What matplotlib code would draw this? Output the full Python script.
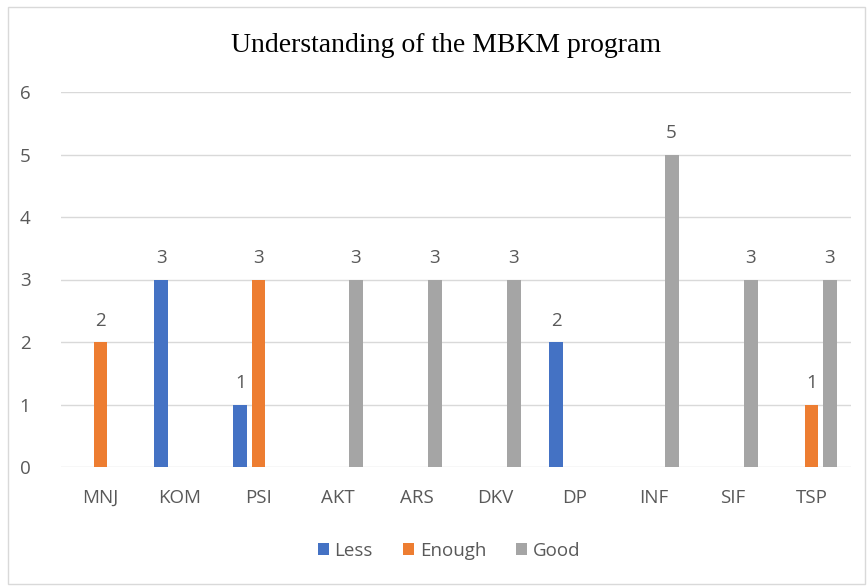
import matplotlib.pyplot as plt
import numpy as np
from matplotlib.patches import Rectangle

categories = ['MNJ', 'KOM', 'PSI', 'AKT', 'ARS', 'DKV', 'DP', 'INF', 'SIF', 'TSP']
less = [0, 3, 1, 0, 0, 0, 2, 0, 0, 0]
enough = [2, 0, 3, 0, 0, 0, 0, 0, 0, 1]
good = [0, 0, 0, 3, 3, 3, 0, 5, 3, 3]

SERIES = [('Less', less, '#4472c4'), ('Enough', enough, '#ed7d31'), ('Good', good, '#a5a5a5')]
TEXT = '#595959'
FS = 13.5

plt.rcParams.update({'font.family': ['Open Sans', 'DejaVu Sans'], 'font.size': FS})

fig = plt.figure(figsize=(8.68, 5.86), dpi=100)
fig.patches.append(Rectangle((8 / 868, 2 / 586), 857 / 868, 577 / 586, transform=fig.transFigure,
                             fill=False, edgecolor='#d9d9d9', linewidth=1))
ax = fig.add_axes([61 / 868, (586 - 467) / 586, 790 / 868, 375 / 586])

x = np.arange(len(categories))
w, step = 0.177, 0.228
for k, (name, vals, col) in enumerate(SERIES):
    pos = x + (k - 1) * step
    ax.bar(pos, vals, width=w, color=col, label=name, zorder=3)
    for p, v in zip(pos, vals):
        if v:
            ax.text(p, v + 0.2, str(v), ha='center', va='bottom', fontsize=FS, color=TEXT)

ax.set_xlim(-0.5, len(categories) - 0.5)
ax.set_ylim(0, 6)
ax.set_yticks(range(7))
ax.set_xticks(x)
ax.set_xticklabels(categories)
ax.tick_params(length=0, colors=TEXT, labelsize=FS)
ax.tick_params(axis='y', pad=22)
ax.tick_params(axis='x', pad=16)
ax.grid(axis='y', color='#d9d9d9', linewidth=1, zorder=0)
for s in ax.spines.values():
    s.set_visible(False)

fig.text(446 / 868, 1 - 45 / 586, 'Understanding of the MBKM program',
         ha='center', va='center', fontsize=20, family='Liberation Serif', color='black')
fig.legend(loc='center', bbox_to_anchor=(449 / 868, 1 - 551 / 586), ncol=3, frameon=False,
           handlelength=0.6, handleheight=0.6, handletextpad=0.3, columnspacing=1.6,
           labelcolor=TEXT, fontsize=FS)

fig.savefig('out.png', dpi=100)
